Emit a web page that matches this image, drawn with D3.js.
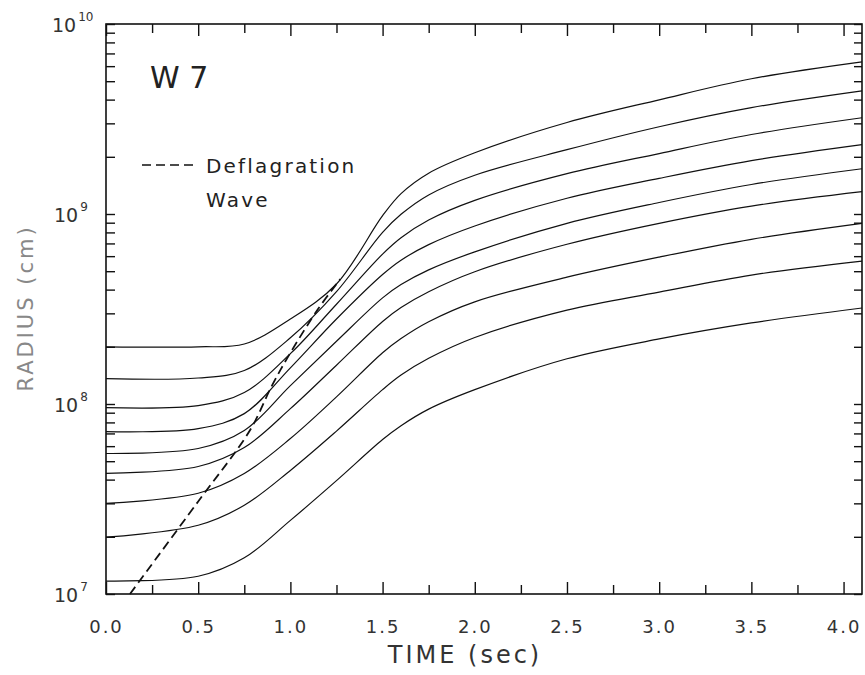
<!DOCTYPE html>
<html>
<head>
<meta charset="utf-8">
<script src="https://cdn.jsdelivr.net/npm/d3@7/dist/d3.min.js"></script>
<style>
  body { margin: 0; background: #fff; }
  svg { display: block; font-family: 'DejaVu Sans', sans-serif; }
</style>
</head>
<body>
<svg width="865" height="675"></svg>
<script>
// time grid (sec) shared by all mass shells
const times = [0, 0.5, 0.75, 1.0, 1.25, 1.5, 1.6, 1.75, 2.0, 2.5, 3.0, 3.5, 4.1]

// radius (cm) of each mass shell, outermost first
const shell1 = [2.00e8, 2.00e8, 2.07e8, 2.80e8, 4.28e8, 9.80e8, 1.28e9, 1.64e9, 2.10e9, 3.03e9, 3.99e9, 5.15e9, 6.32e9]
const shell2 = [1.36e8, 1.37e8, 1.50e8, 2.23e8, 3.90e8, 8.00e8, 9.96e8, 1.26e9, 1.60e9, 2.18e9, 2.88e9, 3.63e9, 4.45e9]
const shell3 = [9.57e7, 9.80e7, 1.15e8, 1.84e8, 3.35e8, 6.15e8, 7.50e8, 9.30e8, 1.18e9, 1.63e9, 2.08e9, 2.62e9, 3.21e9]
const shell4 = [7.16e7, 7.42e7, 8.90e7, 1.55e8, 2.80e8, 4.80e8, 5.71e8, 6.90e8, 8.65e8, 1.21e9, 1.54e9, 1.91e9, 2.32e9]
const shell5 = [5.49e7, 5.83e7, 7.25e7, 1.25e8, 2.14e8, 3.62e8, 4.25e8, 5.08e8, 6.32e8, 8.93e8, 1.15e9, 1.43e9, 1.73e9]
const shell6 = [4.31e7, 4.69e7, 5.90e7, 9.45e7, 1.60e8, 2.72e8, 3.22e8, 3.90e8, 4.97e8, 6.93e8, 8.93e8, 1.10e9, 1.31e9]
const shell7 = [3.00e7, 3.39e7, 4.31e7, 6.58e7, 1.09e8, 1.86e8, 2.21e8, 2.71e8, 3.45e8, 4.65e8, 5.93e8, 7.36e8, 8.93e8]
const shell8 = [1.99e7, 2.30e7, 2.93e7, 4.47e7, 7.20e7, 1.19e8, 1.42e8, 1.74e8, 2.24e8, 3.12e8, 3.88e8, 4.77e8, 5.65e8]
const shell9 = [1.17e7, 1.24e7, 1.55e7, 2.44e7, 3.95e7, 6.50e7, 7.69e7, 9.40e7, 1.19e8, 1.73e8, 2.20e8, 2.67e8, 3.20e8]
const shells = [shell1, shell2, shell3, shell4, shell5, shell6, shell7, shell8, shell9]

// deflagration wave front
const flameTime = [0.13, 0.5, 0.78, 0.9, 1.0, 1.15, 1.27]
const flameRadius = [1.0e7, 3.07e7, 7.25e7, 1.25e8, 1.86e8, 3.16e8, 4.54e8]

const xMajor = [0, 0.5, 1.0, 1.5, 2.0, 2.5, 3.0, 3.5, 4.0]
const xLabels = ['0.0', '0.5', '1.0', '1.5', '2.0', '2.5', '3.0', '3.5', '4.0']
const xMinor = [0.25, 0.75, 1.25, 1.75, 2.25, 2.75, 3.25, 3.75]
const yExponents = [7, 8, 9, 10]

let svg = d3.select('svg')
let plotLeft = 106, plotRight = 862, plotTop = 24, plotBottom = 594

let x = d3.scaleLinear().domain([0, 4.1]).range([plotLeft, plotRight])
let y = d3.scaleLog().domain([1e7, 1e10]).range([plotBottom, plotTop])

// frame
svg.append('rect')
    .attr('x', plotLeft).attr('y', plotTop)
    .attr('width', plotRight - plotLeft).attr('height', plotBottom - plotTop)
    .attr('fill', 'none')
    .attr('stroke', '#111')
    .attr('stroke-width', 1.6)

function styleAxis(g) {
  g.select('.domain').remove()
  g.selectAll('.tick line').attr('stroke', '#111').attr('stroke-width', 1.4)
}

// bottom / top ticks
svg.append('g').attr('transform', 'translate(0,' + plotBottom + ')')
    .call(d3.axisBottom(x).tickValues(xMinor).tickSize(-9).tickFormat(''))
    .call(styleAxis)
let xb = svg.append('g').attr('transform', 'translate(0,' + plotBottom + ')')
    .call(d3.axisBottom(x).tickValues(xMajor).tickSize(-12).tickPadding(26)
      .tickFormat(function(d, i) { return xLabels[i] }))
    .call(styleAxis)
xb.selectAll('text')
    .attr('font-size', 18)
    .attr('letter-spacing', 2)
    .attr('fill', '#333')
    .attr('font-family', 'DejaVu Sans')

svg.append('g').attr('transform', 'translate(0,' + plotTop + ')')
    .call(d3.axisTop(x).tickValues(xMinor).tickSize(-9).tickFormat(''))
    .call(styleAxis)
svg.append('g').attr('transform', 'translate(0,' + plotTop + ')')
    .call(d3.axisTop(x).tickValues(xMajor).tickSize(-12).tickFormat(''))
    .call(styleAxis)

// left / right log ticks
svg.append('g').attr('transform', 'translate(' + plotLeft + ',0)')
    .call(d3.axisLeft(y).tickValues(y.ticks()).tickSize(-9).tickFormat(''))
    .call(styleAxis)
svg.append('g').attr('transform', 'translate(' + plotRight + ',0)')
    .call(d3.axisRight(y).tickValues(y.ticks()).tickSize(-8).tickFormat(''))
    .call(styleAxis)

// y labels 10^n
let ylab = svg.append('g')
    .selectAll('text')
    .data(yExponents)
    .enter().append('text')
      .attr('x', function(d) { return d === 10 ? 52 : 54 })
      .attr('y', function(d) { return y(Math.pow(10, d)) + 8 })
      .attr('font-size', 19)
      .attr('fill', '#333')
ylab.append('tspan').text('10')
ylab.append('tspan')
    .attr('dy', -11)
    .attr('dx', 2)
    .attr('font-size', 12)
    .text(function(d) { return d })

let line = d3.line()
    .x(function(d) { return x(d[0]) })
    .y(function(d) { return y(d[1]) })
    .curve(d3.curveCatmullRom.alpha(0.5))

svg.append('g')
    .selectAll('path')
    .data(shells)
    .enter().append('path')
      .attr('d', function(s) { return line(times.map(function(t, i) { return [t, s[i]] })) })
      .attr('fill', 'none')
      .attr('stroke', '#111')
      .attr('stroke-width', 1.2)

svg.append('path')
    .attr('d', line(flameTime.map(function(t, i) { return [t, flameRadius[i]] })))
    .attr('fill', 'none')
    .attr('stroke', '#111')
    .attr('stroke-width', 1.8)
    .attr('stroke-dasharray', '9,5')

// annotation
svg.append('text')
    .attr('x', 150).attr('y', 88)
    .attr('font-size', 30)
    .attr('fill', '#222')
    .text('W 7')

svg.append('line')
    .attr('x1', 142).attr('x2', 197)
    .attr('y1', 165).attr('y2', 165)
    .attr('stroke', '#111')
    .attr('stroke-width', 1.6)
    .attr('stroke-dasharray', '9,5')
svg.append('text')
    .attr('x', 206).attr('y', 173)
    .attr('font-size', 20)
    .attr('letter-spacing', 2.2)
    .attr('fill', '#222')
    .text('Deflagration')
svg.append('text')
    .attr('x', 206).attr('y', 207)
    .attr('font-size', 20)
    .attr('letter-spacing', 2.2)
    .attr('fill', '#222')
    .text('Wave')

// axis titles
svg.append('text')
    .attr('x', 465).attr('y', 663)
    .attr('text-anchor', 'middle')
    .attr('font-size', 24)
    .attr('letter-spacing', 3)
    .attr('fill', '#333')
    .text('TIME (sec)')

svg.append('text')
    .attr('transform', 'translate(33,308) rotate(-90)')
    .attr('text-anchor', 'middle')
    .attr('font-size', 21)
    .attr('letter-spacing', 3)
    .attr('fill', '#888')
    .text('RADIUS (cm)')
</script>
</body>
</html>
